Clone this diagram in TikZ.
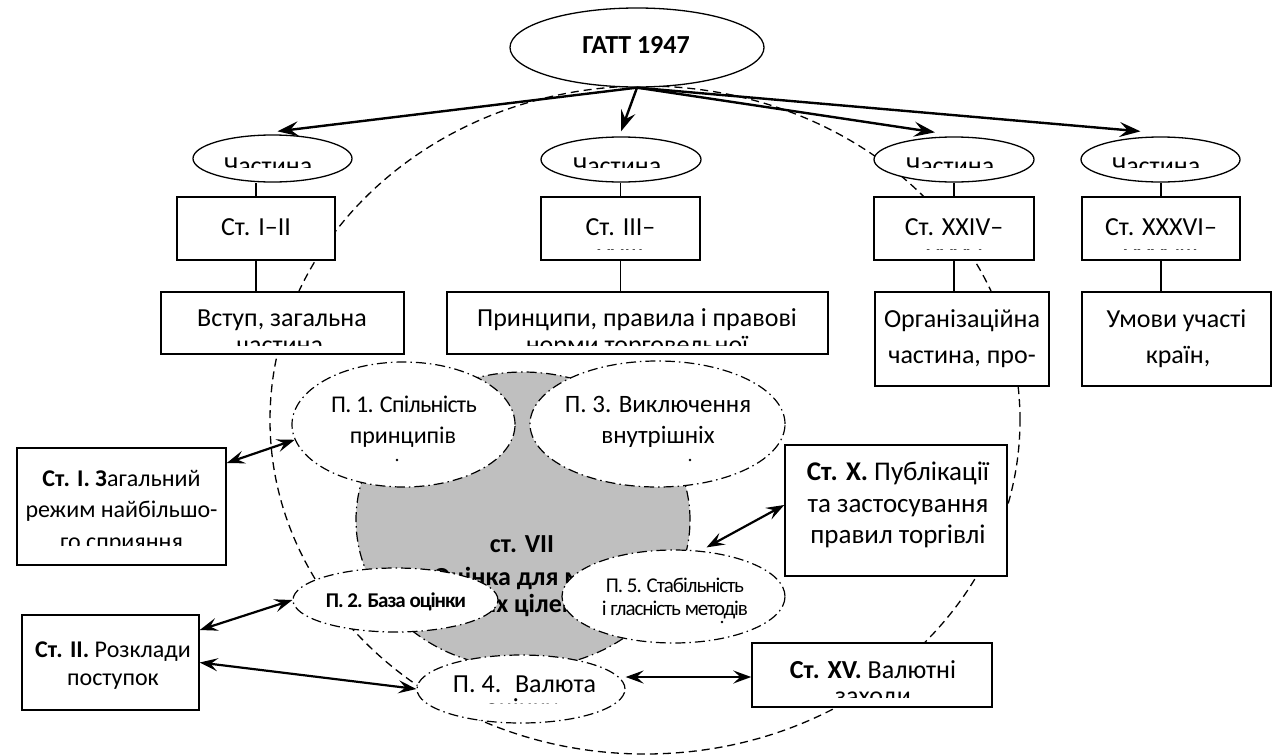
\documentclass[tikz,border=0pt]{standalone}
\usepackage{fontspec}
\setmainfont{Carlito}
\newfontfamily\condf[LetterSpace=-5]{Carlito}
\newfontfamily\condg[LetterSpace=-3]{Carlito}
\usetikzlibrary{shapes.geometric,arrows.meta,calc}
\newcommand\fz[1]{\fontsize{#1}{#1}\selectfont}
\begin{document}
\begin{tikzpicture}[x=1pt,y=-1pt,
  box/.style={draw, line width=1.5pt, fill=white, inner sep=0pt},
  oval/.style={ellipse, draw, line width=1.3pt, fill=white, inner sep=0pt},
  pov/.style={ellipse, draw, line width=1.2pt, fill=white, inner sep=0pt, dash pattern=on 10pt off 4pt on 1.5pt off 4pt},
  bigell/.style={ellipse, draw, line width=1.3pt, dash pattern=on 8pt off 5pt, inner sep=0pt},
  big/.style={-{Stealth[length=21pt,width=15pt,inset=8pt]}, line width=2.4pt},
  dbl/.style={{Stealth[length=18pt,width=13pt,inset=7pt]}-{Stealth[length=18pt,width=13pt,inset=7pt]}, line width=2.2pt},
  lnk/.style={line width=1.3pt},
  t/.style={inner sep=0pt, anchor=base},
]
\fill[white] (0,0) rectangle (1279,755);
\useasboundingbox (0,0) rectangle (1279,755);

% large dashed ellipse
\node[bigell, minimum width=750pt, minimum height=668pt] (circ) at (645,420) {};

% grey central shape
\node[pov, fill=black!25, minimum width=334pt, minimum height=296pt] (vii) at (523,520) {};
\node[t, font={\bfseries\fz{26}}] (vii1) at (522,552) {ст. VII};
\node[t, font={\bfseries\fz{26}}] (vii2) at (524,585) {Оцінка для мит-};
\node[t, font={\bfseries\fz{26}}] (vii3) at (522,612) {них цілей};

% top
\node[oval, minimum width=254pt, minimum height=79pt] (gatt) at (637,47.5) {};
\node[t, font={\bfseries\fz{26}}] (gattt) at (636,53.5) {ГАТТ 1947};

\node[oval, minimum width=159pt, minimum height=47pt] (e1) at (272.5,158.5) {};
\node[oval, minimum width=160pt, minimum height=45pt] (e2) at (621,159.5) {};
\node[oval, minimum width=160pt, minimum height=45pt] (e3) at (954,159.5) {};
\node[oval, minimum width=159pt, minimum height=45pt] (e4) at (1160.5,159.5) {};

\node[box, minimum width=158pt, minimum height=63pt] (b1) at (256,228.5) {};
\node[box, minimum width=159pt, minimum height=63pt] (b2) at (620.5,228.5) {};
\node[box, minimum width=160pt, minimum height=63pt] (b3) at (954,228.5) {};
\node[box, minimum width=158pt, minimum height=63pt] (b4) at (1161,228.5) {};

\node[box, minimum width=243pt, minimum height=62pt] (d1) at (282.5,323) {};
\node[box, minimum width=381pt, minimum height=62pt] (d2) at (637.5,323) {};
\node[box, minimum width=174pt, minimum height=94pt] (d3) at (962,339) {};
\node[box, minimum width=189pt, minimum height=94pt] (d4) at (1176.5,339) {};

% side boxes
\node[box, minimum width=209pt, minimum height=117pt] (c1) at (121.5,506.5) {};
\node[box, minimum width=177pt, minimum height=95pt] (c2) at (110.5,662.5) {};
\node[box, minimum width=222pt, minimum height=131pt] (cx) at (896,510.5) {};
\node[box, minimum width=240pt, minimum height=64pt] (c15) at (872,675) {};

% dash-dot ellipses
\node[pov, minimum width=223pt, minimum height=125pt] (p1) at (403.5,424.5) {};
\node[pov, minimum width=255pt, minimum height=126pt] (p3) at (657.5,424) {};
\node[pov, minimum width=205pt, minimum height=64pt] (p2) at (395.5,600) {};
\node[pov, minimum width=223pt, minimum height=93pt] (p5) at (673.5,596.5) {};
\node[pov, minimum width=208pt, minimum height=68pt] (p4) at (521,689) {};

% texts: Частина (clipped)
\begin{scope}\clip (190,130) rectangle (355,167);
\node[t, font=\fz{26}] (te1) at (268,174.7) {Частина};\end{scope}
\begin{scope}\clip (540,135) rectangle (702,167);
\node[t, font=\fz{26}] (te2) at (617,174.7) {Частина};\end{scope}
\begin{scope}\clip (873,135) rectangle (1035,167);
\node[t, font=\fz{26}] (te3) at (950,174.7) {Частина};\end{scope}
\begin{scope}\clip (1080,135) rectangle (1241,167);
\node[t, font=\fz{26}] (te4) at (1156,174.7) {Частина};\end{scope}

% article boxes
\node[t, font=\fz{26}] (tb1) at (256,235) {Ст. І–ІІ};
\begin{scope}\clip (541,199) rectangle (700,249.6);
\node[t, font=\fz{26}] (tb2) at (620.5,235) {Ст. ІІІ–};
\node[t, font=\fz{26}] (tb2b) at (620.5,266) {XXIII};\end{scope}
\begin{scope}\clip (874,199) rectangle (1034,249.6);
\node[t, font=\fz{26}] (tb3) at (954,235) {Ст. XXIV–};
\node[t, font=\fz{26}] (tb3b) at (954,266) {XXXV};\end{scope}
\begin{scope}\clip (1082,199) rectangle (1240,249.6);
\node[t, font=\fz{26}] (tb4) at (1161,235) {Ст. XXXVI–};
\node[t, font=\fz{26}] (tb4b) at (1161,266) {XXXVIII};\end{scope}

% description boxes
\begin{scope}\clip (161,293) rectangle (404,345.5);
\node[t, font=\fz{26}] (td1) at (282,326) {Вступ, загальна};
\node[t, font=\fz{26}] (td1b) at (280,353) {частина};\end{scope}
\begin{scope}\clip (447,293) rectangle (828,345.5);
\node[t, font=\fz{26}] (td2) at (637,326) {Принципи, правила і правові};
\node[t, font=\fz{26}] (td2b) at (637,353) {норми торговельної};\end{scope}
\node[t, font=\fz{26}] (td3) at (962,327) {Організаційна};
\node[t, font=\fz{26}] (td3b) at (962,363) {частина, про-};
\node[t, font=\fz{26}] (td4) at (1176.5,327) {Умови участі};
\node[t, font=\fz{26}] (td4b) at (1178,363) {країн,};

% side box texts
\begin{scope}\clip (18,449) rectangle (225,545);
\node[t, font=\fz{24}] (tc1) at (121.5,486) {\textbf{Ст. І. З}агальний};
\node[t, font=\fz{24}] (tc1b) at (121.5,517) {режим найбільшо-};
\node[t, font=\fz{24}] (tc1c) at (121.5,549) {го сприяння};\end{scope}
\node[t, font=\fz{24}] (tc2) at (113,657) {\textbf{Ст. ІІ.} Розклади};
\node[t, font=\fz{24}] (tc2b) at (113,685) {поступок};
\node[t, font=\fz{27}] (tcx) at (898,480) {\textbf{Ст. Х.} Публікації};
\node[t, font=\fz{27}] (tcxb) at (898,512) {та застосування};
\node[t, font=\fz{27}] (tcxc) at (898,543) {правил торгівлі};
\begin{scope}\clip (753,644) rectangle (991,697);
\node[t, font=\fz{26}] (tc15) at (873,678) {\textbf{Ст. XV.} Валютні};
\node[t, font=\fz{26}] (tc15b) at (873,704) {заходи};\end{scope}

% ellipse texts
\node[t, font={\condg\fz{24}}] (tp1) at (404,412) {П. 1. Спільність};
\node[t, font=\fz{24}] (tp1b) at (403,443) {принципів};
\node[t, font=\fz{25}] (tp3) at (658,412) {П. 3. Виключення};
\node[t, font=\fz{25}] (tp3b) at (658,443) {внутрішніх};
\node[t, font={\condf\bfseries\fz{21}}] (tp2) at (396,607) {П. 2. База оцінки};
\node[t, font={\condf\fz{21}}] (tp5) at (675,592) {П. 5. Стабільність};
\node[t, font={\condf\fz{21}}] (tp5b) at (675,615) {і гласність методів};
\begin{scope}\clip (418,656) rectangle (624,703.5);
\node[t, font=\fz{26}] (tp4) at (524.5,692) {П. 4.~ Валюта};
\node[t, font=\fz{26}] (tp4b) at (522,716) {оцінки};\end{scope}
% clipped line remnants (dots)
\fill (397,460) circle (1.4pt);
\fill (690,460) circle (1.4pt);
\fill (722,622) circle (1.3pt);

% connectors
\draw[lnk] (b1.north) -- (b1.north |- e1.south);
\draw[lnk] (b2.north) -- (b2.north |- e2.south);
\draw[lnk] (b3.north) -- (b3.north |- e3.south);
\draw[lnk] (b4.north) -- (b4.north |- e4.south);
\draw[lnk] (b1.south) -- (b1.south |- d1.north);
\draw[lnk] (b2.south) -- (b2.south |- d2.north);
\draw[lnk] (b3.south) -- (b3.south |- d3.north);
\draw[lnk] (b4.south) -- (b4.south |- d4.north);

% arrows from GATT
\draw[big] (gatt.south) -- ([xshift=5pt,yshift=3pt]e1.north);
\draw[big] (gatt.south) -- ([yshift=5pt]e2.north);
\draw[big] (gatt.south) -- ([xshift=-19pt,yshift=4pt]e3.north);
\draw[big] (gatt.south) -- ([xshift=-20pt,yshift=5pt]e4.north);

% double arrows
\draw[dbl] ([yshift=43.5pt]c1.east) -- (p1.188);
\draw[dbl] ([yshift=32.5pt]c2.east) -- (p2.west);
\draw[dbl] (c2.east) -- (p4.west);
\draw[dbl] ([yshift=12pt]p4.east) -- ([yshift=12pt]p4.east -| c15.west);
\draw[dbl] ([xshift=33pt,yshift=2pt]p5.north) -- ([yshift=5.5pt]cx.west);
\end{tikzpicture}
\end{document}
